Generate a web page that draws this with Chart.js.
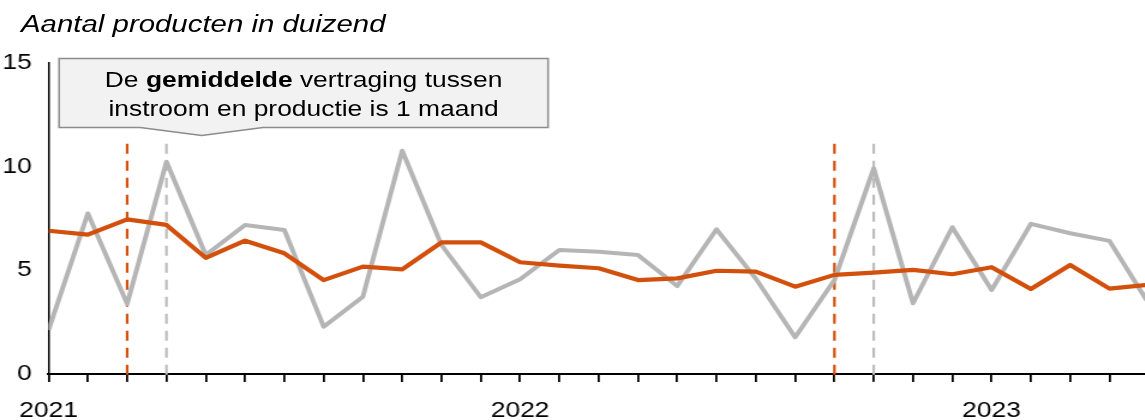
<!DOCTYPE html>
<html>
<head>
<meta charset="utf-8">
<script src="https://cdn.jsdelivr.net/npm/chart.js@4"></script>
<style>
    html, body { margin: 0; padding: 0; background: #fff; overflow: hidden; }
    /* the reference is stretched horizontally, so the whole drawing is too */
    #wrap { position: relative; width: 954px; height: 420px; transform: scaleX(1.2); transform-origin: 0 0;
            font-family: 'Liberation Sans', Arial, sans-serif; color: #000; }
    #chart { position: absolute; left: 0; top: 0; }
    .subtitle { position: absolute; left: 17.5px; top: 10px; font-size: 24.5px; line-height: 28px;
                font-style: italic; white-space: nowrap; }
    .callout-text { position: absolute; left: 49px; top: 65px; width: 408px; text-align: center;
                    font-size: 22px; line-height: 29.4px; white-space: nowrap; }
</style>
</head>
<body>
<div id="wrap">
    <canvas id="chart" width="954" height="420"></canvas>
    <div class="subtitle">Aantal producten in duizend</div>
    <div class="callout-text">De <b>gemiddelde</b> vertraging tussen<br>instroom en productie is 1 maand</div>
</div>
<script>
// Months Jan 2021 .. May 2023 (last one runs past the right edge)
const months = ['2021-01', '2021-02', '2021-03', '2021-04', '2021-05', '2021-06', '2021-07', '2021-08',
    '2021-09', '2021-10', '2021-11', '2021-12', '2022-01', '2022-02', '2022-03', '2022-04', '2022-05',
    '2022-06', '2022-07', '2022-08', '2022-09', '2022-10', '2022-11', '2022-12', '2023-01', '2023-02',
    '2023-03', '2023-04', '2023-05'];
const yearLabels = ['2021', '2022', '2023'];
const yTicks = [0, 5, 10, 15];

// Productie (oranje) en instroom (grijs), x 1000
const production = [6.91, 6.72, 7.46, 7.19, 5.60, 6.43, 5.82, 4.53, 5.18, 5.05, 6.35, 6.35, 5.39, 5.23,
    5.10, 4.53, 4.61, 4.98, 4.94, 4.21, 4.78, 4.89, 5.02, 4.81, 5.15, 4.10, 5.26, 4.12, 4.31];
const inflow = [2.12, 7.75, 3.38, 10.24, 5.74, 7.19, 6.95, 2.28, 3.73, 10.77, 6.22, 3.70, 4.57, 5.98,
    5.90, 5.74, 4.24, 6.98, 4.60, 1.77, 4.53, 9.92, 3.41, 7.08, 4.05, 7.24, 6.79, 6.42, 3.39];

// Dashed markers (month index) and how high they reach
const productionPeaks = [2, 20];
const inflowPeaks = [3, 21];
const markerTop = 11.1;

const ORANGE = '#D3500C';
const GREY = '#B5B5B5';
const FONT = { family: "'Liberation Sans', Arial, sans-serif", size: 22 };

const toPoints = arr => arr.map((v, i) => ({ x: i, y: v }));

const markerPlugin = {
    id: 'markers',
    beforeDatasetsDraw(chart) {
        const { ctx, scales: { x, y } } = chart;
        const draw = (list, color) => {
            list.forEach(m => {
                const px = x.getPixelForValue(m);
                ctx.save();
                ctx.strokeStyle = color;
                ctx.lineWidth = 2.2;
                ctx.setLineDash([10, 7]);
                ctx.beginPath();
                ctx.moveTo(px, y.getPixelForValue(markerTop));
                ctx.lineTo(px, y.getPixelForValue(0) + 8);
                ctx.stroke();
                ctx.restore();
            });
        };
        draw(productionPeaks, ORANGE);
        draw(inflowPeaks, '#BDBDBD');
    }
};

// Callout box behind the annotation text
const calloutPlugin = {
    id: 'callout',
    afterDraw(chart) {
        const ctx = chart.ctx;
        ctx.save();
        ctx.beginPath();
        ctx.moveTo(49.2, 58.5);
        ctx.lineTo(456.7, 58.5);
        ctx.lineTo(456.7, 127.5);
        ctx.lineTo(219.2, 127.5);
        ctx.lineTo(168.1, 135.5);
        ctx.lineTo(116.7, 127.5);
        ctx.lineTo(49.2, 127.5);
        ctx.closePath();
        ctx.fillStyle = '#F2F2F2';
        ctx.fill();
        ctx.strokeStyle = '#8C8C8C';
        ctx.lineWidth = 1.5;
        ctx.stroke();
        ctx.restore();
    }
};

new Chart(document.getElementById('chart'), {
    type: 'line',
    data: {
        datasets: [
            {
                label: 'Productie',
                data: toPoints(production),
                borderColor: ORANGE,
                borderWidth: 4.2,
                pointRadius: 0,
                tension: 0,
                borderJoinStyle: 'round'
            },
            {
                label: 'Instroom',
                data: toPoints(inflow),
                borderColor: GREY,
                borderWidth: 4,
                pointRadius: 0,
                tension: 0,
                borderJoinStyle: 'round'
            }
        ]
    },
    options: {
        responsive: false,
        animation: false,
        layout: { padding: { top: 63, right: 0, bottom: 0, left: 0 } },
        plugins: {
            legend: { display: false },
            tooltip: { enabled: false }
        },
        scales: {
            x: {
                type: 'linear',
                min: 0,
                max: 27.9,
                afterBuildTicks: s => { s.ticks = months.slice(0, 28).map((m, i) => ({ value: i })); },
                afterFit: s => { s.height = 46; },
                grid: { display: true, drawOnChartArea: false, drawTicks: true, tickLength: 8, color: '#000', lineWidth: 1.8 },
                border: { display: true, color: '#000', width: 2 },
                ticks: {
                    autoSkip: false,
                    maxRotation: 0,
                    padding: 16,
                    color: '#000',
                    font: FONT,
                    callback: v => (v % 12 === 0 ? yearLabels[v / 12] : '')
                }
            },
            y: {
                min: 0,
                max: 15,
                afterBuildTicks: s => { s.ticks = yTicks.map(v => ({ value: v })); },
                afterFit: s => { s.width = 39.6; },
                grid: { display: false, drawTicks: false },
                border: { display: true, color: '#000', width: 1.5 },
                ticks: { padding: 14, color: '#000', font: FONT }
            }
        }
    },
    plugins: [markerPlugin, calloutPlugin]
});
</script>
</body>
</html>
